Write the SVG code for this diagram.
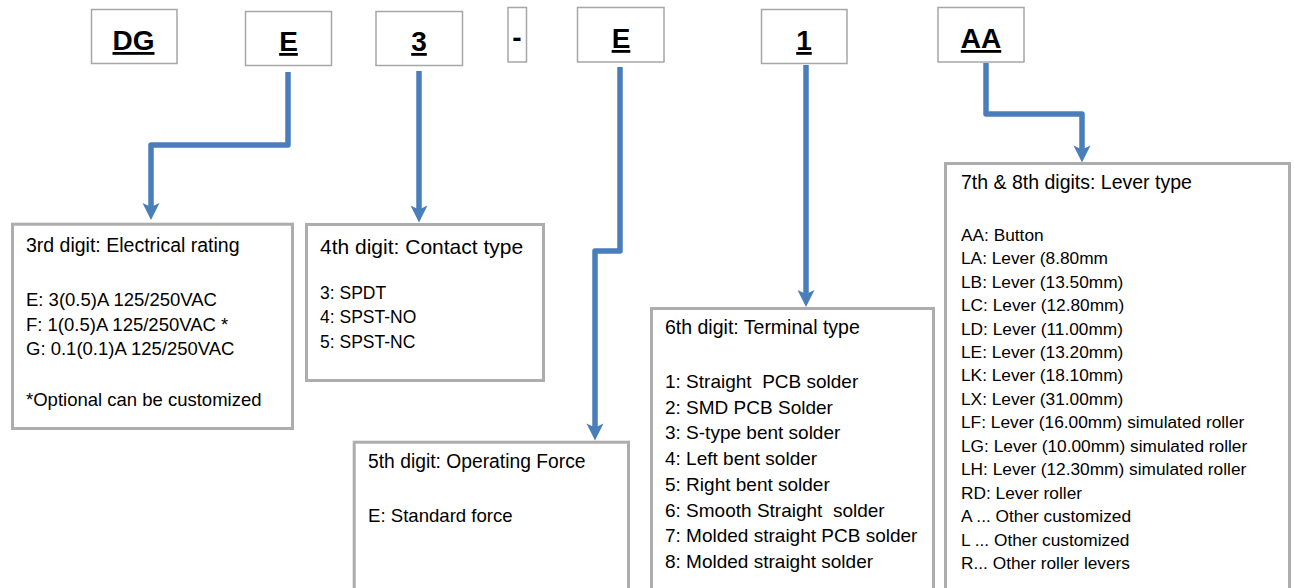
<svg xmlns="http://www.w3.org/2000/svg" width="1294" height="588" viewBox="0 0 1294 588">
<style>
.tb{fill:#fff;stroke:#A6A6A6;stroke-width:1.5}
.bx{fill:#fff;stroke:#ADADAD;stroke-width:3}
.code{font-family:"Liberation Sans",Arial,sans-serif;font-weight:bold;font-size:28px;text-anchor:middle;text-decoration:underline;fill:#000}
.dash{font-family:"Liberation Sans",Arial,sans-serif;font-weight:bold;font-size:28px;text-anchor:middle;fill:#000}
.t{font-family:"Liberation Sans",Arial,sans-serif;fill:#000;white-space:pre}
.conn{fill:none;stroke:#4A7EBB;stroke-width:5.5;stroke-linejoin:round;marker-end:url(#ah)}
</style>
<defs>
<marker id="ah" markerUnits="userSpaceOnUse" viewBox="-8 -10 20 20" refX="0" refY="0" markerWidth="20" markerHeight="20" orient="auto">
<path d="M10,0 L-7,-8.5 L-3,0 L-7,8.5 Z" fill="#4A7EBB"/>
</marker>
</defs>
<rect width="1294" height="588" fill="#fff"/>

<g id="code-DG"><rect class="tb" x="91.5" y="9.5" width="85.5" height="54"/><text class="code" x="133.5" y="50">DG</text></g>
<g id="code-E1"><rect class="tb" x="245.5" y="11.5" width="86" height="54"/><text class="code" x="288.5" y="51">E</text></g>
<g id="code-3"><rect class="tb" x="376" y="11.5" width="86.5" height="54"/><text class="code" x="419" y="51">3</text></g>
<g id="code-dash"><rect class="tb" x="508" y="7.5" width="18.5" height="54.5"/><text class="dash" x="517" y="47">-</text></g>
<g id="code-E2"><rect class="tb" x="577.5" y="7.5" width="86.5" height="54.5"/><text class="code" x="621" y="48">E</text></g>
<g id="code-1"><rect class="tb" x="761.5" y="9.5" width="85.5" height="54"/><text class="code" x="804" y="50">1</text></g>
<g id="code-AA"><rect class="tb" x="938" y="7.5" width="86" height="54.5"/><text class="code" x="981" y="48">AA</text></g>

<g id="connectors">
<path class="conn" d="M288,72 V145 H151 V210"/>
<path class="conn" d="M419,71 V212.5"/>
<path class="conn" d="M620,67 V251 H595 V430.5"/>
<path class="conn" d="M806,65 V297"/>
<path class="conn" d="M986,63 V114 H1082 V152.5"/>
</g>

<g id="box-electrical">
<rect class="bx" x="12.5" y="224.2" width="280" height="204.3"/>
<text class="t" x="26" y="252" font-size="19.5">3rd digit: Electrical rating</text>
<text class="t" x="26" y="306" font-size="18.5">E: 3(0.5)A 125/250VAC</text>
<text class="t" x="26" y="330.5" font-size="18.5">F: 1(0.5)A 125/250VAC *</text>
<text class="t" x="26" y="355" font-size="18.5">G: 0.1(0.1)A 125/250VAC</text>
<text class="t" x="26" y="405.5" font-size="18.5">*Optional can be customized</text>
</g>

<g id="box-contact">
<rect class="bx" x="306.5" y="224.5" width="237" height="156"/>
<text class="t" x="320" y="254" font-size="21">4th digit: Contact type</text>
<text class="t" x="320" y="299" font-size="17.5">3: SPDT</text>
<text class="t" x="320" y="323.3" font-size="17.5">4: SPST-NO</text>
<text class="t" x="320" y="347.7" font-size="17.5">5: SPST-NC</text>
</g>

<g id="box-force">
<rect class="bx" x="354.2" y="442.2" width="274.3" height="200"/>
<text class="t" x="368" y="467.7" font-size="19.3">5th digit: Operating Force</text>
<text class="t" x="368" y="521.7" font-size="18.6">E: Standard force</text>
</g>

<g id="box-terminal">
<rect class="bx" x="651.5" y="308.5" width="282" height="300"/>
<text class="t" x="665" y="334.3" font-size="19.5">6th digit: Terminal type</text>
<text class="t" x="665" y="388" font-size="19">1: Straight  PCB solder</text>
<text class="t" x="665" y="413.7" font-size="19">2: SMD PCB Solder</text>
<text class="t" x="665" y="439.4" font-size="19">3: S-type bent solder</text>
<text class="t" x="665" y="465.1" font-size="19">4: Left bent solder</text>
<text class="t" x="665" y="490.8" font-size="19">5: Right bent solder</text>
<text class="t" x="665" y="516.5" font-size="19">6: Smooth Straight  solder</text>
<text class="t" x="665" y="542.2" font-size="19">7: Molded straight PCB solder</text>
<text class="t" x="665" y="567.9" font-size="19">8: Molded straight solder</text>
</g>

<g id="box-lever">
<rect class="bx" x="945.5" y="163.5" width="344" height="450"/>
<text class="t" x="961" y="189.3" font-size="19.5">7th &amp; 8th digits: Lever type</text>
<text class="t" x="961" y="240.7" font-size="17.3">AA: Button</text>
<text class="t" x="961" y="264.2" font-size="17.3">LA: Lever (8.80mm</text>
<text class="t" x="961" y="287.6" font-size="17.3">LB: Lever (13.50mm)</text>
<text class="t" x="961" y="311.1" font-size="17.3">LC: Lever (12.80mm)</text>
<text class="t" x="961" y="334.5" font-size="17.3">LD: Lever (11.00mm)</text>
<text class="t" x="961" y="358" font-size="17.3">LE: Lever (13.20mm)</text>
<text class="t" x="961" y="381.4" font-size="17.3">LK: Lever (18.10mm)</text>
<text class="t" x="961" y="404.9" font-size="17.3">LX: Lever (31.00mm)</text>
<text class="t" x="961" y="428.3" font-size="17.3">LF: Lever (16.00mm) simulated roller</text>
<text class="t" x="961" y="451.8" font-size="17.3">LG: Lever (10.00mm) simulated roller</text>
<text class="t" x="961" y="475.2" font-size="17.3">LH: Lever (12.30mm) simulated roller</text>
<text class="t" x="961" y="498.7" font-size="17.3">RD: Lever roller</text>
<text class="t" x="961" y="522.1" font-size="17.3">A ... Other customized</text>
<text class="t" x="961" y="545.6" font-size="17.3">L ... Other customized</text>
<text class="t" x="961" y="569" font-size="17.3">R... Other roller levers</text>
</g>
</svg>
